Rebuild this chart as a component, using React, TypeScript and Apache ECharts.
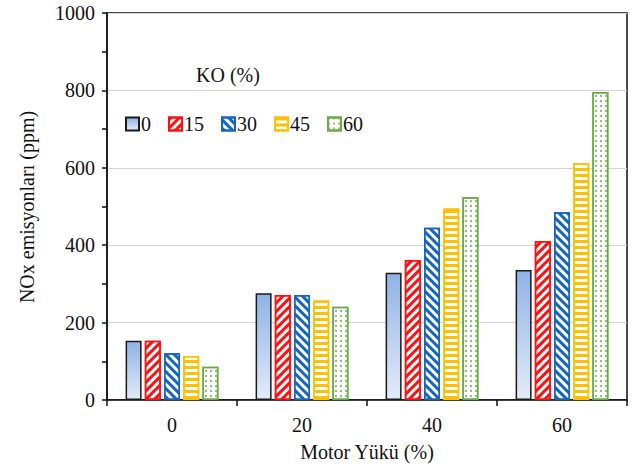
import React, { useEffect, useRef } from "react";
import * as echarts from "echarts";

const loads = ["0", "20", "40", "60"];
const koLevels = ["0", "15", "30", "45", "60"];
const nox0 = [153, 276, 329, 336];
const nox15 = [153, 271, 362, 411];
const nox30 = [121, 271, 445, 485];
const nox45 = [114, 257, 495, 612];
const nox60 = [86, 241, 524, 796];

const FONT = "Liberation Serif";
const INK = "#111111";

// keep every chart text in the serif face
const fontCss = `#nox-chart svg text { font-family: "Liberation Serif", "Times New Roman", serif !important; }`;

export default function App() {
  const ref = useRef<HTMLDivElement>(null);

  useEffect(() => {
    if (!ref.current) return;
    document.body.style.margin = "0";
    const chart = echarts.init(ref.current, undefined, { renderer: "svg" });

    const stripe = (color: string, rotation: number) => ({
      symbol: "rect",
      symbolSize: 1,
      color,
      dashArrayX: [1, 0],
      dashArrayY: [2.5, 2.5],
      rotation,
    });

    const txt = { fontFamily: FONT, fontSize: 20, color: INK };

    const base = {
      type: "bar" as const,
      barWidth: 16,
      barGap: "20%",
    };

    chart.setOption({
      animation: false,
      backgroundColor: "#ffffff",
      title: {
        text: "KO (%)",
        left: 191,
        top: 60,
        textStyle: { ...txt, fontWeight: "normal" },
      },
      graphic: [
        {
          type: "text",
          x: 367,
          y: 452,
          style: {
            text: "Motor Yükü (%)",
            fontFamily: FONT,
            fontSize: 20,
            fill: INK,
            align: "center",
            verticalAlign: "middle",
          },
        },
        {
          type: "text",
          x: 27,
          y: 207,
          rotation: Math.PI / 2,
          style: {
            text: "NOx emisyonları (ppm)",
            fontFamily: FONT,
            fontSize: 20,
            fill: INK,
            align: "center",
            verticalAlign: "middle",
          },
        },
      ],
      legend: {
        data: koLevels,
        left: 120,
        top: 109,
        icon: "rect",
        itemWidth: 13,
        itemHeight: 13,
        itemGap: 17,
        textStyle: { ...txt, padding: [0, 0, 0, -3] },
      },
      grid: {
        left: 107,
        right: 12,
        top: 13,
        bottom: 66,
        show: true,
        borderColor: INK,
        borderWidth: 1.5,
      },
      xAxis: {
        type: "category",
        data: loads,
        axisLine: { lineStyle: { color: INK, width: 1.5 } },
        axisTick: { show: true, length: 6, lineStyle: { color: INK, width: 1.5 } },
        axisLabel: { ...txt, margin: 15 },
      },
      yAxis: {
        type: "value",
        min: 0,
        max: 1000,
        interval: 200,
        axisLine: { show: true, lineStyle: { color: INK, width: 1.5 } },
        axisTick: { show: true, length: 5, lineStyle: { color: INK, width: 1.5 } },
        minorTick: { show: true, splitNumber: 2, length: 5, lineStyle: { color: INK, width: 1.5 } },
        axisLabel: {
          ...txt,
          margin: 12,
          formatter: (v: number) => String(v),
        },
        splitLine: { lineStyle: { color: "#d4d4d4", width: 1.2 } },
      },
      series: [
        {
          ...base,
          name: "0",
          data: nox0,
          itemStyle: {
            color: new echarts.graphic.LinearGradient(0, 0, 0, 1, [
              { offset: 0, color: "#8fb2e6" },
              { offset: 1, color: "#e3ecf9" },
            ]),
            borderColor: "#1a1a1a",
            borderWidth: 1.5,
          },
        },
        {
          ...base,
          name: "15",
          data: nox15,
          itemStyle: {
            color: "#ffffff",
            borderColor: "#ff1010",
            borderWidth: 1.5,
            decal: stripe("#ff1010", -Math.PI / 4),
          },
        },
        {
          ...base,
          name: "30",
          data: nox30,
          itemStyle: {
            color: "#ffffff",
            borderColor: "#1565c0",
            borderWidth: 1.5,
            decal: stripe("#1565c0", Math.PI / 4),
          },
        },
        {
          ...base,
          name: "45",
          data: nox45,
          itemStyle: {
            color: "#ffffff",
            borderColor: "#ffc000",
            borderWidth: 1.5,
            decal: stripe("#ffc000", 0),
          },
        },
        {
          ...base,
          name: "60",
          data: nox60,
          itemStyle: {
            color: "#ffffff",
            borderColor: "#6aaa45",
            borderWidth: 1.5,
            decal: {
              symbol: "rect",
              symbolSize: 1,
              color: "#8cc270",
              dashArrayX: [1.2, 2.3],
              dashArrayY: [1.2, 2.3],
              rotation: 0,
            },
          },
        },
      ],
    });

    return () => chart.dispose();
  }, []);

  return (
    <>
      <style>{fontCss}</style>
      <div id="nox-chart" ref={ref} style={{ width: 639, height: 466 }} />
    </>
  );
}
